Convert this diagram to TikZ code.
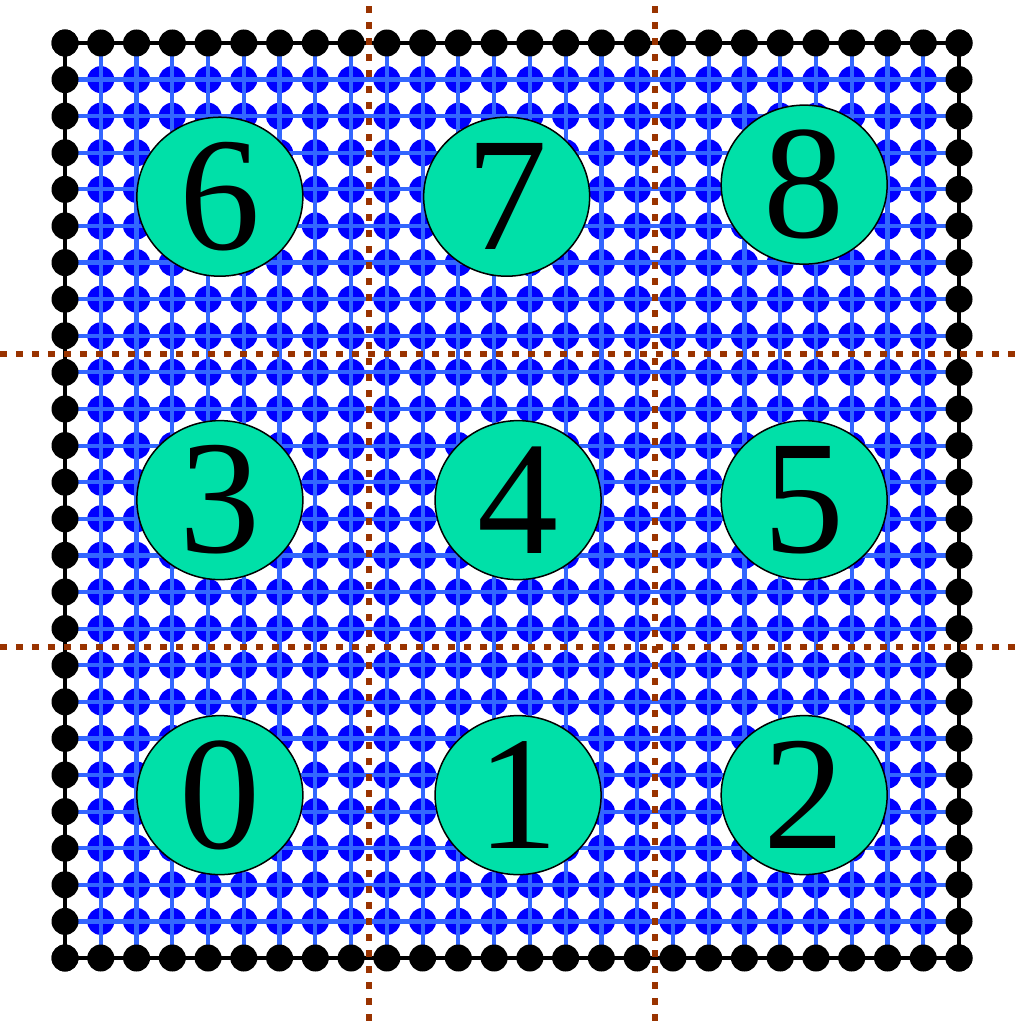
\documentclass[tikz,border=0pt]{standalone}
\usepackage{fontspec}
\setmainfont{Liberation Serif}
\usetikzlibrary{shapes.geometric}
\definecolor{siteblue}{HTML}{0000FF}
\definecolor{linkblue}{HTML}{3366FF}
\definecolor{cutbrown}{HTML}{993300}
\definecolor{rankgreen}{HTML}{00E0A8}

\begin{document}
\begin{tikzpicture}[
    x=17.88pt, y=18.3pt,
    site/.style={circle, fill=siteblue, inner sep=0pt, minimum size=13.5pt},
    halo/.style={circle, fill=black, inner sep=0pt, minimum size=13.5pt},
    link/.style={linkblue, line width=2.1pt},
    cut/.style={cutbrown, line width=3.4pt, dash pattern=on 3.4pt off 4.6pt},
    rank/.style={ellipse, draw=black, line width=0.75pt, fill=rankgreen,
                 minimum width=83pt, minimum height=79.5pt, inner sep=0pt,
                 font=\fontsize{81}{81}\selectfont},
  ]
  \useasboundingbox (-1.818,-1.721) rectangle (26.566,26.175);

  % interior sites
  \foreach \i in {1,...,24}
    \foreach \j in {1,...,24}
      \node[site] (s-\i-\j) at (\i,\j) {};

  % links
  \foreach \j in {1,...,24}
    \draw[link] (0,\j) -- (25,\j);
  \foreach \i in {1,...,24}
    \draw[link] (\i,0) -- (\i,25);

  % boundary
  \draw[black, line width=2pt] (0,0) rectangle (25,25);
  \foreach \k in {0,...,25} {
    \node[halo] (b-\k-0)  at (\k,0)  {};
    \node[halo] (b-\k-25) at (\k,25) {};
    \node[halo] (b-0-\k)  at (0,\k)  {};
    \node[halo] (b-25-\k) at (25,\k) {};
  }

  % domain cuts
  \draw[cut] (8.5,-1.721) -- (8.5,26.175);
  \draw[cut] (16.5,-1.721) -- (16.5,26.175);
  \draw[cut] (-1.818,8.5) -- (26.566,8.5);
  \draw[cut] (-1.818,16.5) -- (26.566,16.5);

  % ranks
  \node[rank] (r6) at (4.33,20.8)  {6};
  \node[rank] (r7) at (12.35,20.8) {7};
  \node[rank] (r8) at (20.67,21.13) {8};
  \node[rank] (r3) at (4.33,12.51)  {3};
  \node[rank] (r4) at (12.67,12.51) {4};
  \node[rank] (r5) at (20.67,12.51) {5};
  \node[rank] (r0) at (4.33,4.45)  {0};
  \node[rank] (r1) at (12.67,4.45) {1};
  \node[rank] (r2) at (20.67,4.45) {2};
\end{tikzpicture}
\end{document}
